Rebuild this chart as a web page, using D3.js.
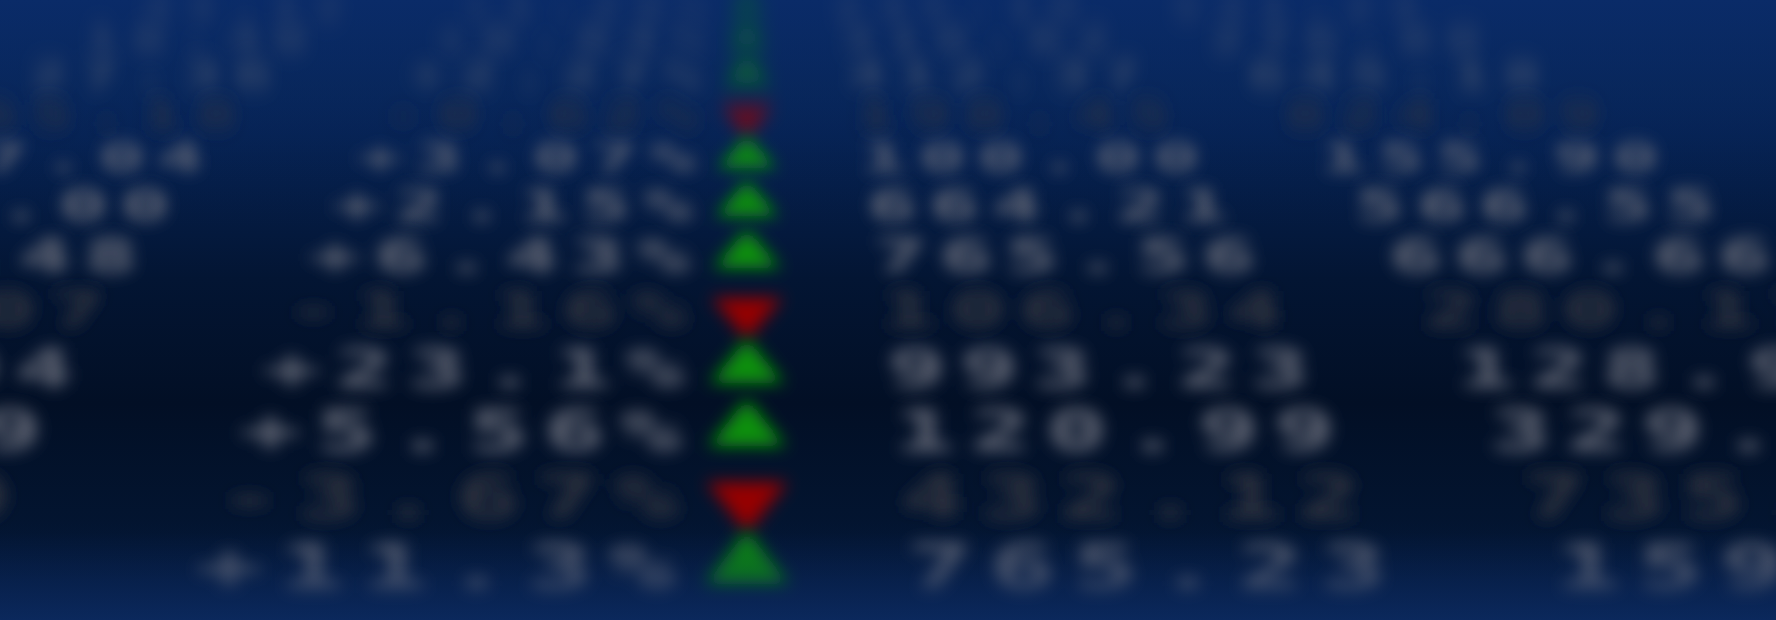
<!DOCTYPE html>
<html lang="en">
<head>
  <meta charset="UTF-8" />
  <title>Ticker board</title>
  <style>
    *{margin:0;padding:0;box-sizing:border-box}
    body{background:#020f26;overflow:hidden}
    svg{display:block}
  </style>
</head>
<body>
  <div id="board"></div>

  <script src="https://cdnjs.cloudflare.com/ajax/libs/d3/7.8.5/d3.min.js"></script>
  <script>
    // board rows, top (far) to bottom (near)
    const prevClose = ['43.12','18.40','27.36','65.18','87.04','52.00','31.48','46.07','78.94','63.29','21.39','54.61'];
    const changes   = [1.29, 0.84, 2.27, -0.62, 3.07, 2.15, 6.43, -1.16, 23.1, 5.56, -3.67, 11.3];
    const prices    = ['245.10','318.62','412.37','198.45','100.00','664.21','765.56','106.34','993.23','120.99','432.12','765.23'];
    const highs     = ['531.24','276.80','645.18','824.09','155.90','566.55','666.66','280.17','128.95','329.47','735.08','159.62'];

    const width = 1776, height = 620;
    const vx = 747;            // column of arrows / vanishing x
    const stretch = 1.3;       // board glyphs are wide

    const rows = changes.map((c, i) => ({
      depth: i + 8, prev: prevClose[i], chg: c, price: prices[i], high: highs[i]
    }));

    // perspective: screen y grows with square of depth
    const y = d3.scalePow().exponent(2).domain([8, 19]).range([6, 566]);
    const sx = d3.scalePow().exponent(0.75).domain([0, 19]).range([0, 1]);
    const sy = d3.scaleLinear().domain([0, 19]).range([0, 0.75]);
    const blurX = d3.scaleLinear().domain([8, 19]).range([8, 8.5]).clamp(true);
    const blurY = d3.scaleLinear().domain([8, 10, 11, 12, 19]).range([13, 11, 10, 8, 8]).clamp(true);

    const fmt = d => (d > 0 ? '+' : '') + (Math.abs(d) >= 10 ? d.toFixed(1) : d.toFixed(2)) + '%';

    const svg = d3.select('#board').append('svg')
      .attr('width', width).attr('height', height);

    const defs = svg.append('defs');

    const bg = defs.append('linearGradient').attr('id', 'bg')
      .attr('x1', 0).attr('y1', 0).attr('x2', 0).attr('y2', 1);
    [[0, '#0a2b68'], [0.22, '#062252'], [0.45, '#031533'], [0.65, '#020f25'], [0.86, '#031531'], [1, '#0b2656']]
      .forEach(([o, c]) => bg.append('stop').attr('offset', o).attr('stop-color', c));

    const fog = defs.append('linearGradient').attr('id', 'fog')
      .attr('x1', 0).attr('y1', 0).attr('x2', 0).attr('y2', 1);
    [[0, '#0a2b68', 0.66], [0.14, '#09295f', 0.45], [0.25, '#08265e', 0.12], [0.38, '#041a45', 0], [0.84, '#041a45', 0], [1, '#0b2a60', 0.6]]
      .forEach(([o, c, a]) => fog.append('stop').attr('offset', o).attr('stop-color', c).attr('stop-opacity', a));

    rows.forEach((d, i) => {
      defs.append('filter').attr('id', 'blur' + i)
        .attr('x', '-20%').attr('y', '-200%').attr('width', '140%').attr('height', '500%')
        .append('feGaussianBlur')
        .attr('stdDeviation', `${blurX(d.depth)} ${blurY(d.depth)}`);
    });

    svg.append('rect').attr('width', width).attr('height', height).attr('fill', 'url(#bg)');

    const row = svg.append('g').selectAll('g')
      .data(rows)
      .join('g')
      .attr('filter', (d, i) => `url(#blur${i})`)
      .append('g')
      .attr('transform', d => `translate(${vx},${y(d.depth)}) scale(${sx(d.depth)},${sy(d.depth)})`);

    const textFill = d => d.chg < 0 ? '#30353f' : '#636876';

    const cols = [
      {key: 'prev',  x: -750, anchor: 'end'},
      {key: 'chg',   x: -55,  anchor: 'end'},
      {key: 'price', x: 160,  anchor: 'start'},
      {key: 'high',  x: 808,  anchor: 'start'}
    ];

    const glyphs = row.append('g').attr('transform', `scale(${stretch},1)`);

    cols.forEach(c => {
      glyphs.append('text')
        .attr('x', c.x / stretch)
        .attr('dy', '0.36em')
        .attr('text-anchor', c.anchor)
        .attr('font-family', '"DejaVu Sans Mono", monospace')
        .attr('font-weight', 'bold')
        .attr('font-size', 84)
        .attr('letter-spacing', 13)
        .attr('fill', textFill)
        .text(d => c.key === 'chg' ? fmt(d.chg) : d[c.key]);
    });

    row.append('path')
      .attr('d', d3.symbol(d3.symbolTriangle, 3000))
      .attr('transform', d => d.chg < 0 ? 'translate(0,4) rotate(180)' : 'translate(0,0)')
      .attr('fill', d => d.chg < 0 ? '#960000' : '#0a900a');

    svg.append('rect').attr('width', width).attr('height', height).attr('fill', 'url(#fog)');
  </script>
</body>
</html>
